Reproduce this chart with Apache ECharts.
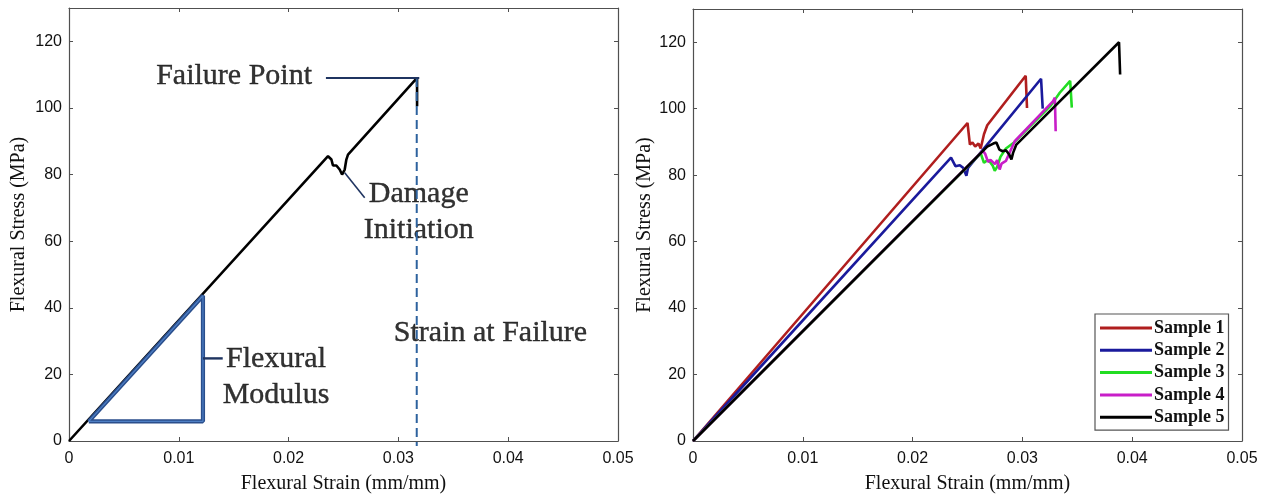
<!DOCTYPE html>
<html>
<head>
<meta charset="utf-8">
<script src="https://cdn.jsdelivr.net/npm/echarts@6/dist/echarts.min.js"></script>
<style>
  html, body { margin: 0; padding: 0; background: #fff; }
  #chart { width: 1270px; height: 499px; }
</style>
</head>
<body>
<div id="chart"></div>
<script>
// ---- data (strain mm/mm, stress MPa) ----
// left panel: single specimen curve
let singleCurve = [[0,0],[0.02359,85.5],[0.0239,84.5],[0.02404,82.7],[0.02435,82.7],[0.02465,81.5],[0.02487,80],
  [0.02511,81.5],[0.02526,84.5],[0.02541,86],[0.0317,109],[0.0317,100.5]];
let modulusTriangle = [[0.0018,5.9],[0.0122,5.9],[0.0122,43.6],[0.0018,5.9]];
let failureStrainLine = [[0.03167,109],[0.03167,-1.5]];
let failureLeader = [[0.0234,109],[0.0319,109]];
let damageLeader = [[0.02511,80.5],[0.02693,73]];
let modulusLeader = [[0.0122,24.8],[0.0140,24.8]];
let annoText = ['Failure Point','Damage\nInitiation','Strain at Failure','Flexural\nModulus'];
let annoAt = [[0.01508,109.3],[0.0319,68.6],[0.03843,32.1],[0.0189,18.95]];

// right panel: five samples
let sampleNames = ['Sample 1','Sample 2','Sample 3','Sample 4','Sample 5'];
let sample1 = [[0,0],[0.0250,95.7],[0.02522,89.2],[0.02545,89.8],[0.0257,88.6],[0.0260,89.5],[0.0262,88.0],
  [0.0265,92.3],[0.0268,95.0],[0.0303,109.9],[0.03042,100.2]];
let sample2 = [[0,0],[0.0235,85.3],[0.0239,82.7],[0.0243,83.0],[0.0246,82.2],[0.0249,79.8],[0.02505,82.2],
  [0.0317,109.0],[0.03185,100.0]];
let sample3 = [[0,0],[0.0262,86.6],[0.0265,83.7],[0.0268,84.5],[0.0270,84.2],[0.0273,82.8],[0.02748,81.3],
  [0.0277,82.5],[0.0280,85.5],[0.0285,88],[0.0293,90.0],[0.0326,101.0],[0.0334,104.8],[0.03435,108.4],[0.0345,100.3]];
let sample4 = [[0,0],[0.0264,87.3],[0.0266,86.5],[0.02687,84],[0.0271,84.6],[0.0275,83.3],[0.0277,84.5],
  [0.02793,81.7],[0.0281,83.5],[0.0285,84.3],[0.0293,90.2],[0.0328,102.3],[0.03296,103.3],[0.03303,93.2]];
let sample5 = [[0,0],[0.0268,88.6],[0.02735,89.5],[0.02763,89.8],[0.0279,87.7],[0.0282,87.2],[0.0285,87.5],
  [0.0288,86.2],[0.0290,84.7],[0.02915,86.7],[0.02945,89.2],[0.0388,120],[0.0389,110.3]];

let xMin = 0, xMax = 0.05, xStep = 0.01;
let yMin = 0, yMax = 130, yStep = 20;

// ---- chart ----
let axisCol = '#505050';
let tickFont = { fontFamily: 'Liberation Sans', fontSize: 16, color: '#111' };
let nameFont = { fontFamily: 'Liberation Serif', fontSize: 20, color: '#111' };

function xAx(grid, bottom){
  return {
    type: 'value', gridIndex: grid, position: bottom ? 'bottom' : 'top',
    min: xMin, max: xMax, interval: xStep,
    name: bottom ? 'Flexural Strain (mm/mm)' : '', nameLocation: 'middle', nameGap: 33, nameTextStyle: nameFont,
    axisLine: { show: true, onZero: false, lineStyle: { color: axisCol, width: 1.2 } },
    axisTick: { show: true, inside: true, length: 4, lineStyle: { color: axisCol } },
    axisLabel: { show: bottom, margin: 10, ...tickFont,
      formatter: v => v === 0 ? '0' : v.toFixed(2) },
    splitLine: { show: false }
  };
}
function yAx(grid, left, gap){
  return {
    type: 'value', gridIndex: grid, position: left ? 'left' : 'right',
    min: yMin, max: yMax, interval: yStep,
    name: left ? 'Flexural Stress (MPa)' : '', nameLocation: 'middle', nameGap: gap, nameTextStyle: nameFont,
    axisLine: { show: true, onZero: false, lineStyle: { color: axisCol, width: 1.2 } },
    axisTick: { show: true, inside: true, length: 4, lineStyle: { color: axisCol } },
    axisLabel: { show: left, margin: 7, showMaxLabel: false, ...tickFont },
    splitLine: { show: false }
  };
}

function seg(name, data, color, width, x, y, dash){
  return {
    type: 'line', name, data, xAxisIndex: x, yAxisIndex: y,
    showSymbol: false, symbol: 'none', clip: false, silent: true,
    itemStyle: { color },
    lineStyle: { color, width, type: dash || 'solid' }
  };
}

let lineW = 2.6;
let series = [
  seg('curve', singleCurve, '#000', lineW, 0, 0),
  seg('tri', modulusTriangle, '#2A4E8C', 4.2, 0, 0),
  seg('tri2', modulusTriangle, '#4E7FC4', 1.2, 0, 0),
  seg('dash', failureStrainLine, '#2D629E', 2, 0, 0, [9, 5]),
  seg('lead1', failureLeader, '#1F3460', 2, 0, 0),
  seg('lead2', damageLeader, '#1F3460', 1.6, 0, 0),
  seg('lead3', modulusLeader, '#1F3460', 2.4, 0, 0),
  {
    type: 'scatter', name: 'notes', xAxisIndex: 0, yAxisIndex: 0, silent: true,
    symbolSize: 1, itemStyle: { color: 'transparent' },
    data: annoAt.map((p, i) => ({ value: p, label: { formatter: annoText[i] } })),
    label: { show: true, position: [0, 0], align: 'center', verticalAlign: 'middle',
      fontFamily: 'Liberation Serif', fontSize: 30, lineHeight: 36, color: '#000',
      textBorderColor: '#000', textBorderWidth: 0.4 }
  },
  seg('Sample 1', sample1, '#B01E1E', lineW, 2, 2),
  seg('Sample 2', sample2, '#1A1A9C', lineW, 2, 2),
  seg('Sample 3', sample3, '#22DD22', lineW, 2, 2),
  seg('Sample 4', sample4, '#C81EC8', lineW, 2, 2),
  seg('Sample 5', sample5, '#000000', lineW, 2, 2)
];

let chart = echarts.init(document.getElementById('chart'), null, { renderer: 'canvas' });
chart.setOption({
  animation: false,
  backgroundColor: '#fff',
  grid: [
    { left: 69, top: 8, width: 549, height: 434 },
    { left: 693, top: 9, width: 549, height: 433 }
  ],
  xAxis: [xAx(0, true), xAx(0, false), xAx(1, true), xAx(1, false)],
  yAxis: [yAx(0, true, 40), yAx(0, false, 0), yAx(1, true, 38), yAx(1, false, 0)],
  legend: {
    data: sampleNames, orient: 'vertical', left: 1095, top: 314,
    icon: 'rect', itemWidth: 52, itemHeight: 3, itemGap: 2.3,
    padding: [4, 4, 3, 5], borderColor: '#555', borderWidth: 1.2, borderRadius: 0,
    backgroundColor: '#fff',
    textStyle: { fontFamily: 'Liberation Serif', fontWeight: 'bold', fontSize: 18, lineHeight: 20,
      color: '#111', padding: [0, 0, 0, -3] }
  },
  series
});
</script>
</body>
</html>
